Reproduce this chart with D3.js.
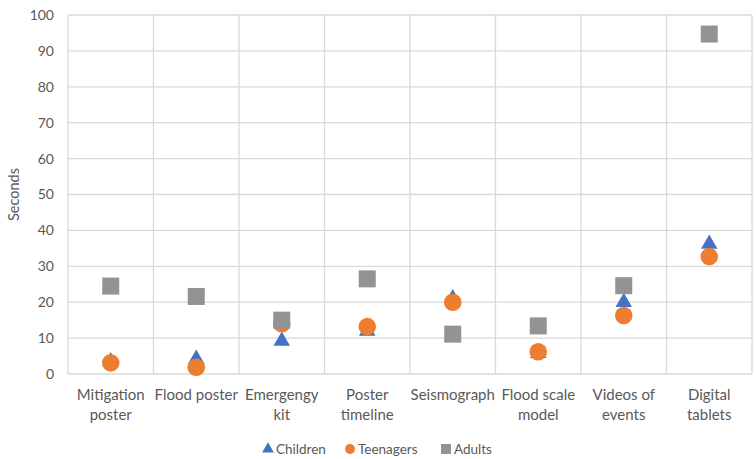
<!DOCTYPE html>
<html><head><meta charset="utf-8">
<script src="https://cdn.jsdelivr.net/npm/d3@7"></script>
<style>body{margin:0;background:#fff;} text{font-family:Lato,"Open Sans",sans-serif;fill:#595959;}</style>
</head><body>
<svg id="c" width="756" height="459"></svg>
<script>
const categories = [["Mitigation","poster"],["Flood poster"],["Emergengy","kit"],["Poster","timeline"],["Seismograph"],["Flood scale","model"],["Videos of","events"],["Digital","tablets"]];
const children = [3.5, 4.2, 9.2, 12, 21, 5.8, 20, 36.2];
const teenagers = [3.1, 1.9, 14, 13.2, 20, 6.2, 16.3, 32.7];
const adults = [24.5, 21.6, 15, 26.5, 11.1, 13.4, 24.6, 94.7];
const yTicks = [0,10,20,30,40,50,60,70,80,90,100];
const seriesNames = ["Children","Teenagers","Adults"];
const colors = {Children:"#4472C4", Teenagers:"#ED7D31", Adults:"#939393"};

const svg = d3.select("#c");
const m = {l:68, r:752, t:15, b:374};
const x = d3.scaleBand().domain(d3.range(categories.length)).range([m.l, m.r]);
const y = d3.scaleLinear().domain([0,100]).range([m.b, m.t]);

// horizontal grid
svg.append("g").selectAll("line").data(yTicks).join("line")
  .attr("x1", m.l).attr("x2", m.r).attr("y1", d=>y(d)).attr("y2", d=>y(d))
  .attr("stroke","#d9d9d9").attr("stroke-width",1.3);
// vertical grid
const vb = d3.range(categories.length+1).map(i => m.l + i*x.bandwidth());
svg.append("g").selectAll("line").data(vb).join("line")
  .attr("x1", d=>d).attr("x2", d=>d).attr("y1", m.t).attr("y2", m.b)
  .attr("stroke","#d9d9d9").attr("stroke-width",1.3);

// y tick labels
svg.append("g").selectAll("text").data(yTicks).join("text")
  .attr("x", 54).attr("y", d=>y(d)).attr("dy","0.35em").attr("text-anchor","end")
  .attr("font-size",14).text(d=>d);
svg.append("text").attr("transform",`translate(19,${(m.t+m.b)/2}) rotate(-90)`)
  .attr("text-anchor","middle").attr("font-size",14.5).text("Seconds");

// x labels
const xl = svg.append("g").selectAll("text").data(categories).join("text")
  .attr("text-anchor","middle").attr("font-size",15);
xl.each(function(d,i){
  const t = d3.select(this);
  d.forEach((line,j)=>{
    t.append("tspan").attr("x", x(i)+x.bandwidth()/2).attr("y", 400 + j*20).text(line);
  });
});

const cx = i => x(i)+x.bandwidth()/2;
// Children triangles
const tri = d3.symbol().type(d3.symbolTriangle).size(118);
svg.append("g").selectAll("path").data(children).join("path")
  .attr("d", tri).attr("transform",(d,i)=>`translate(${cx(i)},${y(d)})`)
  .attr("fill",colors.Children);
// Teenagers circles
svg.append("g").selectAll("circle").data(teenagers).join("circle")
  .attr("cx",(d,i)=>cx(i)).attr("cy",d=>y(d)).attr("r",8.8)
  .attr("fill",colors.Teenagers);
// Adults squares
svg.append("g").selectAll("rect").data(adults).join("rect")
  .attr("x",(d,i)=>cx(i)-8.5).attr("y",d=>y(d)-8.5).attr("width",17).attr("height",17)
  .attr("fill",colors.Adults);

// legend
const leg = svg.append("g");
const lx = [268, 350, 446];
seriesNames.forEach((s,i)=>{
  const g = leg.append("g").attr("transform",`translate(${lx[i]},449)`);
  if(s==="Children") g.append("path").attr("d", d3.symbol().type(d3.symbolTriangle).size(60)).attr("fill",colors[s]);
  else if(s==="Teenagers") g.append("circle").attr("r",5).attr("fill",colors[s]);
  else g.append("rect").attr("x",-5).attr("y",-5).attr("width",10).attr("height",10).attr("fill",colors[s]);
  g.append("text").attr("x",8).attr("dy","0.35em").attr("font-size",13.5).text(s);
});
</script>
</body></html>
